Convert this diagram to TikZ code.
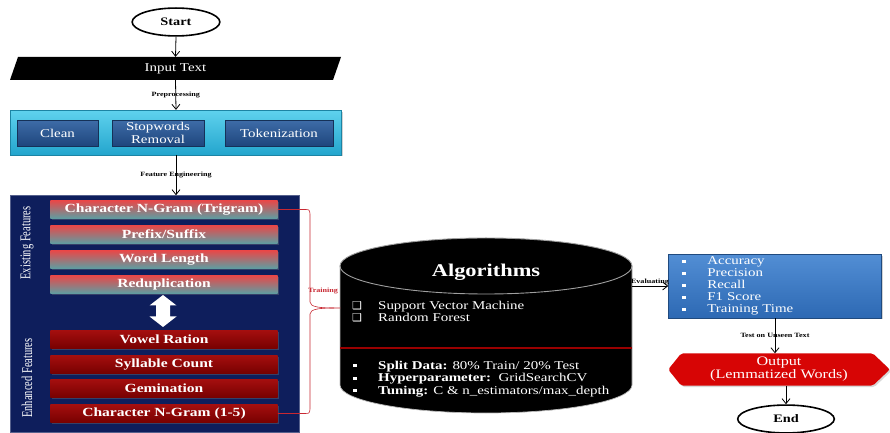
\documentclass[tikz,border=0pt]{standalone}
\usepackage{fontspec}
\setmainfont{Liberation Serif}[FakeStretch=1.25]
\newfontfamily\vfont{Liberation Serif}[FakeStretch=0.7]
\newfontfamily\djv{DejaVu Sans}
\usetikzlibrary{arrows.meta,shapes.geometric,backgrounds,shadows,calc}
\definecolor{navyF}{RGB}{14,30,92}
\definecolor{cyanT}{RGB}{95,210,238}
\definecolor{cyanB}{RGB}{35,165,205}
\definecolor{pbT}{RGB}{62,108,168}
\definecolor{pbB}{RGB}{30,70,125}
\definecolor{exT}{RGB}{235,70,70}
\definecolor{exB}{RGB}{90,160,165}
\definecolor{enT}{RGB}{165,15,15}
\definecolor{enB}{RGB}{118,0,0}
\definecolor{mT}{RGB}{82,142,212}
\definecolor{mB}{RGB}{45,105,180}
\definecolor{outR}{RGB}{215,5,5}
\definecolor{brR}{RGB}{200,40,50}
\newcommand\fsz[2]{\fontsize{#1}{#2}\selectfont}
\newcommand\chk{\makebox[26bp][l]{\djv\fsz{11}{11}❑}}
\newcommand\wblt{\makebox[26bp][l]{\hspace{1bp}\rule[2bp]{4bp}{3bp}}}
\begin{document}
\begin{tikzpicture}[x=1bp,y=-1bp,
  arr/.style={-{Straight Barb[length=5bp,width=8bp]}, line width=0.8bp},
  lab/.style={font=\bfseries\fsz{6.5}{7}, inner sep=0.5bp},
  term/.style={ellipse, draw, line width=1.6bp, fill=white, font=\bfseries\fsz{11.5}{12}, inner sep=0},
  shad/.style={drop shadow={opacity=0.35, shadow xshift=1.5bp, shadow yshift=-1.5bp}},
  pbox/.style={top color=pbT, bottom color=pbB, draw=pbB!70!black, text=white, font=\fsz{12}{13}, align=center, inner sep=0, minimum height=26, shad},
  exbox/.style={top color=exT, bottom color=exB, text=white, font=\bfseries\fsz{12.5}{13}, inner sep=0, minimum width=228, minimum height=19, shad},
  enbox/.style={top color=enT, bottom color=enB, text=white, font=\bfseries\fsz{12.5}{13}, inner sep=0, minimum width=228, minimum height=19, shad},
  vlab/.style={rotate=90, text=white, font=\vfont\fsz{15}{15}, inner sep=0}
]
\useasboundingbox (0,0) rectangle (890,433);
\begin{scope}[on background layer]
\fill[white] (0,0) rectangle (890,433);
\end{scope}

% Start
\node[term, minimum width=88, minimum height=28] (start) at (176,22) {Start};

% Input text
\fill[black] (10,80) -- (18,57) -- (341,57) -- (333,80) -- cycle;
\node[inner sep=0, minimum width=323, minimum height=23, text=white, font=\fsz{12}{13}] (inp) at (175.5,68.5) {Input Text};

% Preprocessing
\node[top color=cyanT, bottom color=cyanB, draw=cyanB!80!black, minimum width=332, minimum height=45, inner sep=0, shad] (pre) at (176,132.5) {};
\node[pbox, minimum width=81] (clean) at (57.5,133) {Clean};
\node[pbox, minimum width=92] (stop) at (158,133) {Stopwords\\Removal};
\node[pbox, minimum width=108] (tok) at (279,133) {Tokenization};

% Features
\node[fill=navyF, draw=navyF!70!white, minimum width=290, minimum height=238, inner sep=0] (feat) at (155,314) {};
\node[exbox] (tri) at (164,209.5) {Character N-Gram (Trigram)};
\node[exbox] (pfx) at (164,234.5) {Prefix/Suffix};
\node[exbox] (wl) at (164,259.5) {Word Length};
\node[exbox] (red) at (164,284.5) {Reduplication};
\node[enbox] (vr) at (164,339.5) {Vowel Ration};
\node[enbox] (sc) at (164,364.5) {Syllable Count};
\node[enbox] (gem) at (164,388.5) {Gemination};
\node[enbox] (ng) at (164,413.5) {Character N-Gram (1-5)};
\fill[white] (163,295) -- (176.5,305.5) -- (170,305.5) -- (170,316.5) -- (176.5,316.5) -- (163,327) -- (149.5,316.5) -- (156,316.5) -- (156,305.5) -- (149.5,305.5) -- cycle;
\node[vlab] (exl) at (27,243) {Existing Features};
\node[vlab] (enl) at (27,378) {Enhanced Features};

% Cylinder
\fill[black] (340,266) -- (340,385) arc[start angle=180,end angle=0,x radius=146,y radius=28] -- (632,266) arc[start angle=0,end angle=-180,x radius=146,y radius=28] -- cycle;
\draw[gray!55, line width=0.7] (340,266) -- (340,385) arc[start angle=180,end angle=0,x radius=146,y radius=28] -- (632,266);
\draw[gray!75, line width=0.9] (486,266) ellipse[x radius=146,y radius=28];
\node[minimum width=292, minimum height=175, inner sep=0] (alg) at (486,325.5) {};
\draw[red!60!black, line width=1.5] (340,348) -- (632,348);
\node[text=white, font=\bfseries\fsz{18}{20}] (algt) at (486,272) {Algorithms};
\node[anchor=west, text=white, align=left, font=\fsz{12}{12}, inner sep=0] (algs) at (352,312) {\chk Support Vector Machine\\\chk Random Forest};
\node[anchor=west, text=white, align=left, font=\fsz{12}{12.5}, inner sep=0] (algp) at (352,379) {\wblt\textbf{Split Data:} 80\% Train/ 20\% Test\\\wblt\textbf{Hyperparameter:}\ \ GridSearchCV\\\wblt\textbf{Tuning:} C \& n\_estimators/max\_depth};

% Brace
\coordinate (cusp) at (334,308);
\draw[brR, line width=0.6] (tri.east) -- (304,209.5) .. controls (309.5,209.5) .. (310,214) -- (310,302) .. controls (310,307) and (320,308) .. (cusp) -- (cusp -| alg.west);
\draw[brR, line width=0.6] (cusp) .. controls (320,308) and (310,309) .. (310,314) -- (310,409) .. controls (309.5,413.5) .. (304,413.5) -- (ng.east);
\node[text=brR, font=\bfseries\fsz{6.5}{7}, inner sep=0] (trl) at (323,291) {Training};

% Metrics
\node[top color=mT, bottom color=mB, draw=mB!70!black, minimum height=64, text width=188, inner xsep=13, inner ysep=0, align=left, text=white, font=\fsz{12}{12}, shad] (met) at (775,286) {\wblt Accuracy\\\wblt Precision\\\wblt Recall\\\wblt F1 Score\\\wblt Training Time};

% Output
\node[minimum width=222, minimum height=32, inner sep=0, align=center, text=white, font=\fsz{13}{13}] (out) at (779,369.5) {Output\\(Lemmatized Words)};
\begin{scope}[on background layer]
\fill[outR, rounded corners=2, drop shadow={opacity=0.3, shadow xshift=1.5bp, shadow yshift=-1.5bp}] (out.west) -- ($(out.north west)+(13,0)$) -- ($(out.north east)+(-17,0)$) -- (out.east) -- ($(out.south east)+(-17,0)$) -- ($(out.south west)+(13,0)$) -- cycle;
\end{scope}

% End
\node[term, minimum width=97, minimum height=28] (end) at (786,419) {End};

% Connectors
\draw[arr] (start.south) -- (inp.north);
\draw[arr] (inp.south) -- node[lab] {Preprocessing} (pre.north);
\draw[arr] (pre.south) -- node[lab] {Feature Engineering} (pre.south |- feat.north);
\draw[arr] (alg.east |- met.west) -- node[lab, above, pos=0.5] {Evaluating} (met.west);
\draw[arr] (met.south) -- node[lab] {Test on Unseen Text} (met.south |- out.north);
\draw[arr] (end.north |- out.south) -- (end.north);
\end{tikzpicture}
\end{document}
